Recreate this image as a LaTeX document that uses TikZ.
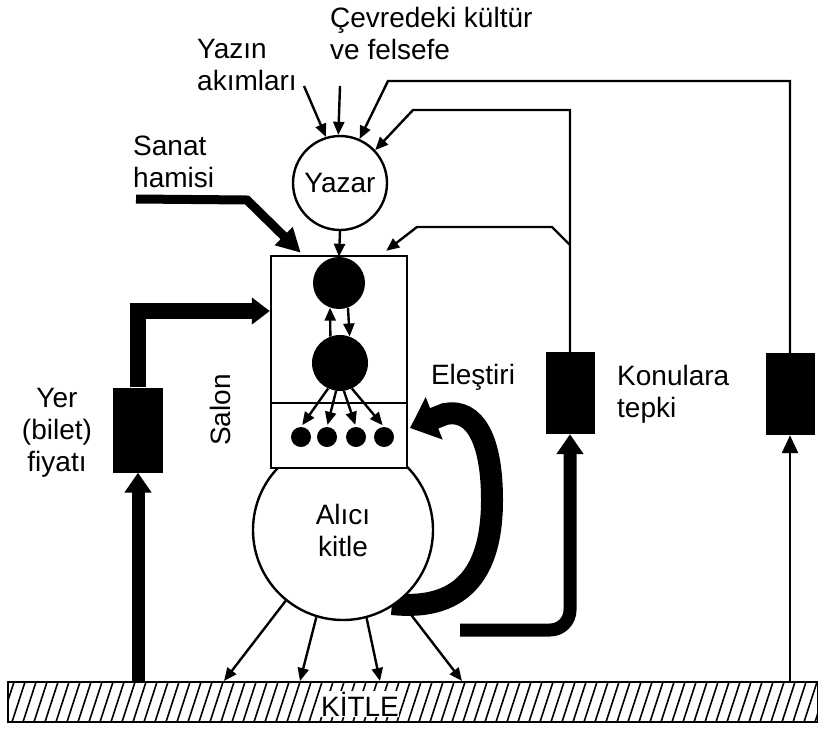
\documentclass[tikz,border=0pt]{standalone}
\usepackage{fontspec}
\setmainfont{Liberation Sans}
\usetikzlibrary{arrows.meta}

\begin{document}
\begin{tikzpicture}[x=1pt,y=-1pt,font=\fontsize{28}{32}\selectfont,
  yazi/.style={inner sep=0pt,align=left},
  ince/.style={line width=2.4pt},
  inceok/.style={ince,-{Triangle[length=13pt,width=11pt]}},
  kalinok/.style={line width=13pt,-{Triangle[length=20pt,width=26pt]}},
  karakutu/.style={fill=black,minimum width=49pt,minimum height=82pt,inner sep=0pt},
  kara/.style={circle,fill=black,inner sep=0pt}]
\useasboundingbox (0,0) rectangle (818,736);
\begin{scope}
  \clip (8,682) rectangle (818,722);
  \foreach \x in {-10,1,...,830}
    \draw[line width=1.6pt] (\x,722) -- (\x+13,682);
\end{scope}
\node[fill=white,inner sep=0.5pt] (kitleyazi) at (360,704) {KİTLE};
\node[draw,ince,minimum width=810pt,minimum height=40pt,inner sep=0pt] (kitle) at (413,702) {};
\coordinate (elestiribas) at (392,604);
\coordinate (elestiriuc) at (410,428);
\draw[line width=22pt,-{Triangle[length=26pt,width=44pt]}] (elestiribas)
  .. controls (468,612) and (492,565) .. (492,500)
  .. controls (492,440) and (475,408) .. (445,414) -- (elestiriuc);
\node[circle,draw,ince,fill=white,minimum size=180pt,align=center,inner sep=0pt] (alici) at (343,530) {Alıcı\\kitle};
\node[draw,ince,fill=white,minimum width=136pt,minimum height=212pt,inner sep=0pt] (salon) at (339,362) {};
\coordinate (bolme) at (339,403);
\draw[ince] (salon.west |- bolme) -- (salon.east |- bolme);
\node[kara,minimum size=52pt] (ust) at (339,283) {};
\node[kara,minimum size=56pt] (alt) at (340,363) {};
\foreach \x [count=\i] in {301,327,356,384}
  \node[kara,minimum size=20pt] (d\i) at (\x,437) {};
\draw[inceok] (alt.110) -- (ust.250);
\draw[inceok] (ust.290) -- (alt.70);
\foreach \a/\i in {245/1,262/2,278/3,295/4}
  \draw[inceok,shorten >=2pt] (alt.\a) -- (d\i.north);
\foreach \a/\x [count=\i] in {231/224,253/300,285/380,309/462} {
  \coordinate (yere\i) at (\x,681);
  \draw[inceok] (alici.\a) -- (yere\i);
}
\node[circle,draw,ince,minimum size=94pt,inner sep=0pt] (yazar) at (340,183) {Yazar};
\draw[inceok] (yazar.south) -- (ust.north);
\node[yazi,anchor=west] (akim) at (197,65) {Yazın\\akımları};
\coordinate (akim1) at (304,86);
\coordinate (akim2) at (340,86);
\draw[inceok] (akim1) -- (yazar.107);
\draw[inceok] (akim2) -- (yazar.92);
\node[yazi,anchor=west] (cevre) at (330,33) {Çevredeki kültür\\ve felsefe};
\node[karakutu] (felsefe) at (790,394) {};
\node[karakutu] (tepki) at (570,393) {};
\node[karakutu,minimum width=50pt,minimum height=85pt] (fiyat) at (138,430) {};
\coordinate (cevrekose) at (388,81);
\draw[ince,-{Triangle[length=18pt,width=16pt]}] (kitle.north -| felsefe) -- (felsefe.south);
\draw[inceok] (felsefe.north) |- (cevrekose) -- (yazar.66);
\coordinate (tepkikose) at (413,110);
\draw[inceok] (tepki.north) |- (tepkikose) -- (yazar.43);
\coordinate (ayrim) at (570,245);
\coordinate (ayrimust) at (552,227);
\coordinate (ayrimsol) at (417,227);
\draw[inceok] (ayrim) -- (ayrimust) -- (ayrimsol) -- ([xshift=-22pt,yshift=4pt]salon.north east);
\coordinate (tepkibas) at (460,630);
\draw[kalinok,rounded corners=20pt] (tepkibas) -| (tepki.south);
\draw[kalinok] (kitle.north -| fiyat) -- (fiyat.south);
\coordinate (fiyatkose) at (138,311);
\draw[line width=16pt,-{Triangle[length=18pt,width=26pt]}] (fiyat.north) -- (fiyatkose) -- (salon.west |- fiyatkose);
\node[yazi,anchor=west] (sanat) at (133,162) {Sanat\\hamisi};
\coordinate (sanatbas) at (136,199);
\coordinate (sanatkose) at (247,200);
\draw[line width=9pt,-{Triangle[length=24pt,width=24pt]}] (sanatbas) -- (sanatkose) -- ([xshift=31pt,yshift=2pt]salon.north west);
\node[yazi,align=center] (yer) at (57,433) {Yer\\(bilet)\\fiyatı};
\node[yazi,rotate=90] (salonyazi) at (220,410) {Salon};
\node[yazi] (elestiri) at (473,377) {Eleştiri};
\node[yazi,anchor=west] (konu) at (617,394) {Konulara\\tepki};
\end{tikzpicture}
\end{document}
